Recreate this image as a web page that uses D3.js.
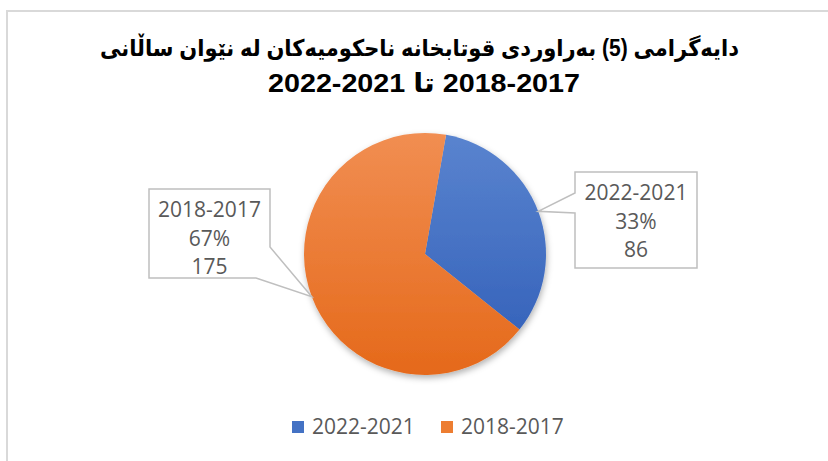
<!DOCTYPE html>
<html>
<head>
<meta charset="utf-8">
<script src="https://cdn.jsdelivr.net/npm/d3@7.9.0/dist/d3.min.js"></script>
<style>
  html, body { margin: 0; padding: 0; background: #fff; }
  svg { display: block; }
</style>
</head>
<body>
<svg id="chart" width="828" height="461"></svg>
<script>
// ---------- DATA ----------
const categories = ["2022-2021", "2018-2017"];
const values = [86, 175];
const percents = ["33%", "67%"];
const titleLine1 = "دایەگرامی (5) بەراوردی  قوتابخانە ناحکومیەکان لە نێوان ساڵانی";
// visual order left to right; LRM keeps the second year range left-to-right
const titleLine2 = "2022-2021 تا \u200E2018-2017";

const fills = ["#4472C4", "#ED7D31"];
const gradStops = [
  { top: "#5A84CF", bottom: "#2F5DB7" },
  { top: "#F18E52", bottom: "#E5691A" }
];

const width = 828, height = 461;
const cx = 425, cy = 254, r = 121;
const startAngle = 0.175;

const svg = d3.select("#chart");
const defs = svg.append("defs");

// chart frame
svg.append("rect")
  .attr("x", 7).attr("y", 11)
  .attr("width", width + 10).attr("height", height + 10)
  .attr("fill", "#fff")
  .attr("stroke", "#d9d9d9")
  .attr("stroke-width", 2);

// ---------- TITLE ----------
svg.append("text")
  .attr("x", 419.5)
  .attr("y", 56)
  .attr("direction", "rtl")
  .attr("text-anchor", "middle")
  .attr("font-family", "'Liberation Sans', 'DejaVu Sans', Arial, sans-serif")
  .attr("font-weight", "bold")
  .attr("font-size", 23)
  .attr("textLength", 639)
  .attr("lengthAdjust", "spacingAndGlyphs")
  .attr("fill", "#000")
  .text(titleLine1);

svg.append("text")
  .attr("x", 424)
  .attr("y", 92)
  .attr("direction", "ltr")
  .attr("text-anchor", "middle")
  .attr("font-family", "'Liberation Sans', 'DejaVu Sans', Arial, sans-serif")
  .attr("font-weight", "bold")
  .attr("font-size", 26)
  .attr("textLength", 312)
  .attr("lengthAdjust", "spacingAndGlyphs")
  .attr("fill", "#000")
  .text(titleLine2);

// ---------- PIE ----------
defs.append("filter")
  .attr("id", "shadow")
  .attr("x", "-20%").attr("y", "-20%")
  .attr("width", "140%").attr("height", "140%")
  .append("feDropShadow")
  .attr("dx", 1).attr("dy", 3)
  .attr("stdDeviation", 3)
  .attr("flood-color", "#000")
  .attr("flood-opacity", 0.3);

gradStops.forEach((c, i) => {
  const g = defs.append("linearGradient")
    .attr("id", "grad" + i)
    .attr("gradientUnits", "userSpaceOnUse")
    .attr("x1", 0).attr("x2", 0)
    .attr("y1", cy - r).attr("y2", cy + r);
  g.append("stop").attr("offset", "0%").attr("stop-color", c.top);
  g.append("stop").attr("offset", "100%").attr("stop-color", c.bottom);
});

const pie = d3.pie()
  .sort(null)
  .startAngle(startAngle)
  .endAngle(startAngle + 2 * Math.PI)
  .value(d => d);

const arcs = pie(values);

// slices drawn in page coordinates so the vertical gradient spans the whole pie
const slicePath = d => {
  const p = d3.path();
  const a0 = d.startAngle - Math.PI / 2, a1 = d.endAngle - Math.PI / 2;
  p.moveTo(cx, cy);
  p.lineTo(cx + r * Math.cos(a0), cy + r * Math.sin(a0));
  p.arc(cx, cy, r, a0, a1);
  p.closePath();
  return p.toString();
};

svg.append("g")
  .attr("filter", "url(#shadow)")
  .selectAll("path")
  .data(arcs)
  .join("path")
  .attr("d", slicePath)
  .attr("fill", (d, i) => `url(#grad${i})`);

// ---------- CALLOUT LABELS ----------
const boxes = [
  { x: 575, y: 172, w: 122, h: 96, side: "left" },
  { x: 149, y: 189, w: 121, h: 89, side: "right" }
];

const labelG = svg.append("g");
arcs.forEach((d, i) => {
  const b = boxes[i];
  const mid = (d.startAngle + d.endAngle) / 2 - Math.PI / 2;
  const tx = cx + r * Math.cos(mid), ty = cy + r * Math.sin(mid);
  let pts;
  if (b.side === "left") {
    pts = [
      [b.x, b.y], [b.x + b.w, b.y], [b.x + b.w, b.y + b.h], [b.x, b.y + b.h],
      [b.x, b.y + 41], [tx, ty], [b.x, b.y + 21]
    ];
  } else {
    pts = [
      [b.x, b.y], [b.x + b.w, b.y], [b.x + b.w, b.y + 58], [tx, ty],
      [b.x + b.w - 14, b.y + b.h], [b.x, b.y + b.h]
    ];
  }
  labelG.append("path")
    .attr("d", d3.line()(pts) + "Z")
    .attr("fill", "#fff")
    .attr("stroke", "#bfbfbf")
    .attr("stroke-width", 1.5);

  const lines = [categories[i], percents[i], String(values[i])];
  labelG.append("g").selectAll("text")
    .data(lines)
    .join("text")
    .attr("x", b.x + b.w / 2)
    .attr("y", (t, j) => b.y + 28 + j * 28.5)
    .attr("text-anchor", "middle")
    .attr("font-family", "'Open Sans', 'Noto Sans', sans-serif")
    .attr("font-size", 21)
    .attr("fill", "#595959")
    .text(t => t);
});

// ---------- LEGEND ----------
const legendX = [292, 441];
const legend = svg.append("g");
categories.forEach((c, i) => {
  legend.append("rect")
    .attr("x", legendX[i]).attr("y", 421)
    .attr("width", 12).attr("height", 12)
    .attr("fill", fills[i]);
  legend.append("text")
    .attr("x", legendX[i] + 20)
    .attr("y", 434)
    .attr("font-family", "'Open Sans', 'Noto Sans', sans-serif")
    .attr("font-size", 21)
    .attr("fill", "#595959")
    .text(c);
});
</script>
</body>
</html>
